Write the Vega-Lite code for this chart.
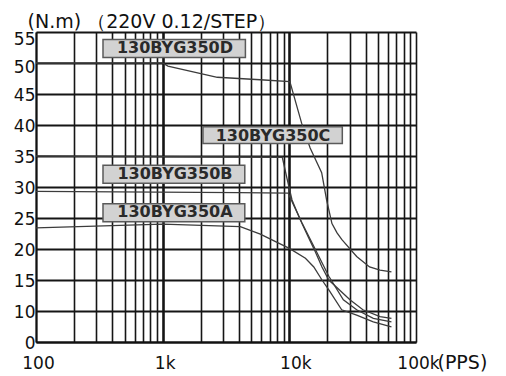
{
  "$schema": "https://vega.github.io/schema/vega-lite/v6.json",
  "width": 380,
  "height": 310,
  "autosize": "none",
  "padding": {"left": 36, "top": 32, "right": 90, "bottom": 34},
  "background": "white",
  "view": {"stroke": null},
  "datasets": {
    "curves": [
      {"series": "D", "x": 100, "y": 50}, {"series": "D", "x": 1000, "y": 50}, {"series": "D", "x": 1100, "y": 49.5},
      {"series": "D", "x": 2700, "y": 47.7}, {"series": "D", "x": 5900, "y": 47.3}, {"series": "D", "x": 10100, "y": 47.0},
      {"series": "D", "x": 12500, "y": 40.3}, {"series": "D", "x": 14600, "y": 36.3}, {"series": "D", "x": 18000, "y": 32.3},
      {"series": "D", "x": 19700, "y": 27.9}, {"series": "D", "x": 21700, "y": 24.1}, {"series": "D", "x": 23800, "y": 22.6},
      {"series": "D", "x": 26000, "y": 21.5}, {"series": "D", "x": 34000, "y": 18.8}, {"series": "D", "x": 43000, "y": 17.1},
      {"series": "D", "x": 52000, "y": 16.6}, {"series": "D", "x": 64000, "y": 16.3},
      {"series": "C", "x": 100, "y": 35}, {"series": "C", "x": 8800, "y": 34.8}, {"series": "C", "x": 9600, "y": 31.3},
      {"series": "C", "x": 10500, "y": 27.9}, {"series": "C", "x": 12200, "y": 24.7}, {"series": "C", "x": 14200, "y": 21.8},
      {"series": "C", "x": 16000, "y": 19.6}, {"series": "C", "x": 18100, "y": 17.1}, {"series": "C", "x": 20500, "y": 15.0},
      {"series": "C", "x": 30100, "y": 11.8}, {"series": "C", "x": 38100, "y": 10.2}, {"series": "C", "x": 52000, "y": 8.2},
      {"series": "C", "x": 64000, "y": 7.6},
      {"series": "B", "x": 100, "y": 29.3}, {"series": "B", "x": 4000, "y": 29.1}, {"series": "B", "x": 9800, "y": 29.0},
      {"series": "B", "x": 10800, "y": 27.1}, {"series": "B", "x": 12600, "y": 24.2}, {"series": "B", "x": 15100, "y": 21.0},
      {"series": "B", "x": 20500, "y": 15.6}, {"series": "B", "x": 26700, "y": 11.8}, {"series": "B", "x": 34000, "y": 10.2},
      {"series": "B", "x": 46000, "y": 7.6}, {"series": "B", "x": 64000, "y": 6.5},
      {"series": "A", "x": 100, "y": 23.4}, {"series": "A", "x": 1000, "y": 24.0}, {"series": "A", "x": 4100, "y": 23.6},
      {"series": "A", "x": 5900, "y": 22.4}, {"series": "A", "x": 10000, "y": 20.1}, {"series": "A", "x": 13400, "y": 18.5},
      {"series": "A", "x": 15600, "y": 17.1}, {"series": "A", "x": 18100, "y": 15.0}, {"series": "A", "x": 20500, "y": 13.4},
      {"series": "A", "x": 25900, "y": 10.2}, {"series": "A", "x": 34000, "y": 8.7}, {"series": "A", "x": 46000, "y": 6.5},
      {"series": "A", "x": 64000, "y": 4.9}
    ],
    "boxes": [
      {"label": "130BYG350D", "x": 338, "x2": 4500, "y": 53.8, "y2": 50.9},
      {"label": "130BYG350C", "x": 2080, "x2": 26200, "y": 39.7, "y2": 37.0},
      {"label": "130BYG350B", "x": 338, "x2": 4450, "y": 33.5, "y2": 30.6},
      {"label": "130BYG350A", "x": 338, "x2": 4450, "y": 27.3, "y2": 24.4}
    ],
    "labels": [
      {"label": "130BYG350D", "x": 1250, "y": 52.35},
      {"label": "130BYG350C", "x": 7430, "y": 38.3},
      {"label": "130BYG350B", "x": 1250, "y": 32.1},
      {"label": "130BYG350A", "x": 1250, "y": 26.0}
    ]
  },
  "encoding": {
    "x": {
      "field": "x", "type": "quantitative",
      "scale": {"type": "log", "domain": [100, 100000], "nice": false},
      "axis": {
        "values": [100, 200, 300, 400, 500, 600, 700, 800, 900, 1000, 2000, 3000, 4000, 5000, 6000, 7000, 8000, 9000, 10000, 20000, 30000, 40000, 50000, 60000, 70000, 80000, 90000, 100000],
        "labelExpr": "datum.value==100?'100':datum.value==1000?'1k':datum.value==10000?'10k':datum.value==100000?'100k':''",
        "grid": true, "gridColor": "#151515",
        "gridWidth": {"condition": {"test": "datum.value==1000||datum.value==10000", "value": 2.6}, "value": 1.6},
        "ticks": false, "tickSize": 0,
        "domain": true, "domainColor": "#111", "domainWidth": 2,
        "labelFont": "DejaVu Sans", "labelFontSize": 17, "labelColor": "#111",
        "labelBaseline": "alphabetic", "labelPadding": 26,
        "labelFlush": false, "labelOverlap": false, "labelBound": false,
        "labelOffset": {"condition": {"test": "datum.value==10000", "value": 6}, "value": 2},
        "title": "(PPS)", "titleFont": "DejaVu Sans", "titleFontSize": 19, "titleFontWeight": "normal", "titleColor": "#111",
        "titleX": 401, "titleY": 26, "titleAlign": "left", "titleBaseline": "alphabetic", "titleAngle": 0
      }
    },
    "y": {
      "field": "y", "type": "quantitative",
      "scale": {"domain": [0, 10, 55], "range": [310, 279, 0], "nice": false, "zero": false},
      "axis": {
        "values": [0, 10, 15, 20, 25, 30, 35, 40, 45, 50, 55],
        "grid": true, "gridColor": "#151515", "gridWidth": 2,
        "ticks": false, "tickSize": 0,
        "domain": true, "domainColor": "#111", "domainWidth": 2,
        "labelFont": "DejaVu Sans", "labelFontSize": 17, "labelColor": "#111",
        "labelPadding": 1, "labelBaseline": "middle", "labelAlign": "right",
        "labelFlush": false, "labelOverlap": false, "labelBound": false,
        "labelOffset": {"condition": [{"test": "datum.value==55", "value": 7}, {"test": "datum.value==50", "value": 4}], "value": 1},
        "title": "(N.m)  （220V 0.12/STEP）", "titleFont": "DejaVu Sans", "titleFontSize": 19, "titleFontWeight": "normal", "titleColor": "#111",
        "titleX": -9, "titleY": -5, "titleAlign": "left", "titleBaseline": "alphabetic", "titleAngle": 0
      }
    }
  },
  "layer": [
    {
      "data": {"name": "curves"},
      "mark": {"type": "line", "color": "#3c3c3c", "strokeWidth": 1.3},
      "encoding": {"detail": {"field": "series", "type": "nominal"}}
    },
    {
      "data": {"name": "boxes"},
      "mark": {"type": "rect", "fill": "#d2d2d2", "stroke": "#5a5a5a", "strokeWidth": 1.5},
      "encoding": {"x2": {"field": "x2"}, "y2": {"field": "y2"}}
    },
    {
      "data": {"name": "labels"},
      "mark": {"type": "text", "font": "DejaVu Sans", "fontWeight": "bold", "fontSize": 16, "color": "#2a2a2a", "align": "center", "baseline": "middle"},
      "encoding": {"text": {"field": "label", "type": "nominal"}}
    }
  ]
}
